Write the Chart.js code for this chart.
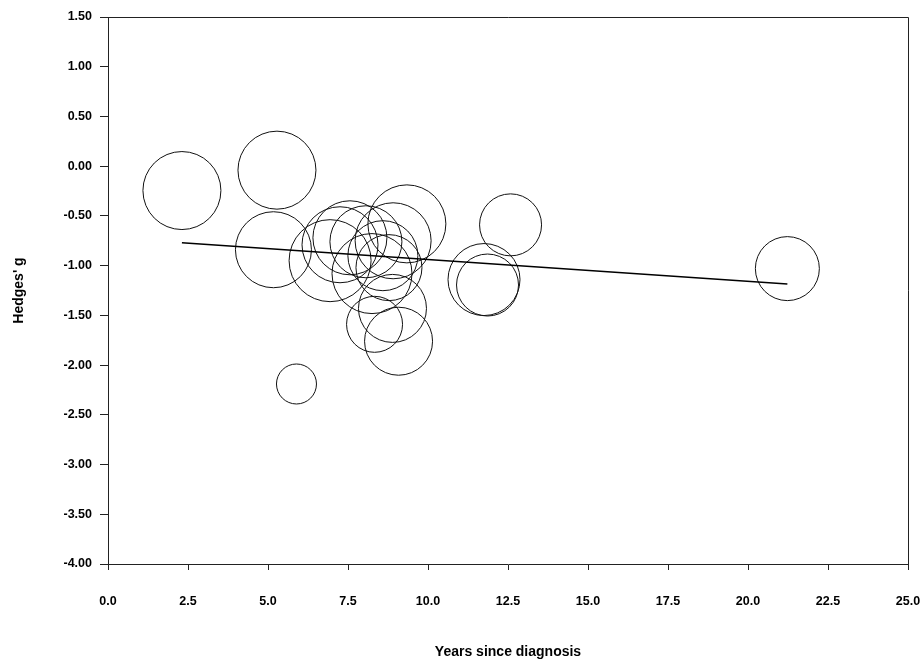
<!DOCTYPE html>
<html>
<head>
<meta charset="utf-8">
<script src="https://cdn.jsdelivr.net/npm/chart.js@4/dist/chart.umd.min.js"></script>
<style>
  body { margin: 0; background: #fff; }
  #wrap { width: 924px; height: 666px; }
</style>
</head>
<body>
<div id="wrap"><canvas id="myChart"></canvas></div>
<script>
const canvasChart = document.getElementById("myChart");

// one entry per study
const studyYears = [2.31, 5.28, 5.17, 5.89, 12.58, 11.75, 11.86, 21.23,
  6.94, 7.25, 7.56, 8.06, 8.25, 8.59, 8.91, 9.34, 8.78, 8.89, 8.33, 9.08];
const studyG = [-0.245, -0.04, -0.84, -2.19, -0.59, -1.14, -1.195, -1.03,
  -0.95, -0.79, -0.72, -0.76, -1.08, -0.90, -0.75, -0.58, -1.02, -1.43, -1.59, -1.76];
const studyWeight = [39, 39, 38, 20, 31, 36, 31, 32,
  41, 38, 37, 36, 40, 35, 38, 39, 33, 34, 28, 34];

// meta-regression line end points
const fitYears = [2.31, 21.23];
const fitG = [-0.77, -1.185];

const xTicks = { min: 0, max: 25, step: 2.5 };
const yTicks = { min: -4, max: 1.5, step: 0.5 };

const labelFont = { family: "'Liberation Sans', Arial, sans-serif", size: 12.5, weight: "bold" };
const titleFont = { family: "'Liberation Sans', Arial, sans-serif", size: 14, weight: "bold" };

const bubbles = studyYears.map((x, i) => ({ x: x, y: studyG[i], r: studyWeight[i] }));
const fitLine = fitYears.map((x, i) => ({ x: x, y: fitG[i] }));

// box round the plot area (top and right sides)
const frame = {
  id: "frame",
  afterDraw(chart) {
    const { ctx, chartArea } = chart;
    ctx.save();
    ctx.strokeStyle = "#222";
    ctx.lineWidth = 1;
    ctx.beginPath();
    ctx.moveTo(chartArea.left, chartArea.top + 0.5);
    ctx.lineTo(chartArea.right + 0.5, chartArea.top + 0.5);
    ctx.lineTo(chartArea.right + 0.5, chartArea.bottom);
    ctx.stroke();
    ctx.restore();
  },
};

new Chart(canvasChart, {
  type: "bubble",
  data: {
    datasets: [
      {
        type: "line",
        data: fitLine,
        borderColor: "#000",
        borderWidth: 1.6,
        pointRadius: 0,
        fill: false,
      },
      {
        data: bubbles,
        backgroundColor: "rgba(0,0,0,0)",
        borderColor: "#111",
        borderWidth: 1,
        hoverRadius: 0,
      },
    ],
  },
  options: {
    responsive: true,
    maintainAspectRatio: false,
    animation: false,
    events: [],
    layout: { autoPadding: false, padding: { top: 17, right: 16, left: 0, bottom: 0 } },
    plugins: { legend: { display: false }, tooltip: { enabled: false } },
    scales: {
      x: {
        type: "linear",
        min: xTicks.min,
        max: xTicks.max,
        afterFit: (scale) => {
          scale.height = 102;
          scale.paddingLeft = 0;
          scale.paddingRight = 0;
        },
        ticks: {
          stepSize: xTicks.step,
          color: "#000",
          font: labelFont,
          padding: 24,
          maxRotation: 0,
          callback: (v) => v.toFixed(1),
        },
        grid: { drawOnChartArea: false, tickLength: 6, color: "#222" },
        border: { color: "#222", width: 1 },
        title: {
          display: true,
          text: "Years since diagnosis",
          color: "#000",
          font: titleFont,
          padding: { top: 0, bottom: 5 },
        },
      },
      y: {
        type: "linear",
        min: yTicks.min,
        max: yTicks.max,
        afterFit: (scale) => {
          scale.width = 108;
          scale.paddingTop = 0;
          scale.paddingBottom = 0;
        },
        ticks: {
          stepSize: yTicks.step,
          color: "#000",
          font: labelFont,
          padding: 8,
          callback: (v) => v.toFixed(2),
        },
        grid: { drawOnChartArea: false, tickLength: 8, color: "#222" },
        border: { color: "#222", width: 1 },
        title: {
          display: true,
          text: "Hedges' g",
          color: "#000",
          font: titleFont,
          padding: { top: 11, bottom: 0 },
        },
      },
    },
  },
  plugins: [frame],
});
</script>
</body>
</html>
